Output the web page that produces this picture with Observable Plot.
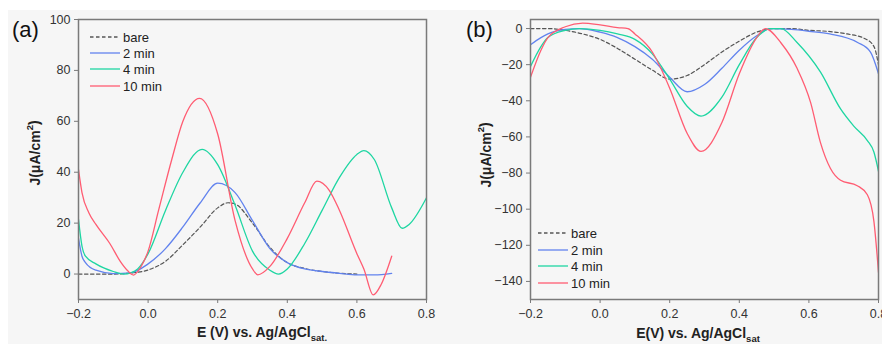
<!DOCTYPE html>
<html>
<head>
<meta charset="utf-8">
<script src="https://cdn.jsdelivr.net/npm/d3@7"></script>
<script src="https://cdn.jsdelivr.net/npm/@observablehq/plot@0.6"></script>
<style>
  html, body { margin: 0; padding: 0; background: #ffffff; }
  #wrap { position: relative; width: 882px; height: 344px; overflow: hidden; font-family: "Liberation Sans", Arial, sans-serif; }
  #bg { position: absolute; left: 8px; top: 10px; width: 874px; height: 334px; background: #f6f6f6; }
  .panel { position: absolute; top: 0; width: 441px; height: 344px; overflow: hidden; }
  #pa { left: 0; }
  #pb { left: 441px; }
</style>
</head>
<body>
<div id="wrap">
  <div id="bg"></div>
  <div class="panel" id="pa"></div>
  <div class="panel" id="pb"></div>
</div>
<script>
// ---------- Data ----------
const seriesNames = ["bare", "2 min", "4 min", "10 min"];
const seriesColors = ["#555555", "#6283ee", "#1ed6a2", "#ff5c72"];

// Panel (a)
const bareA_E = [-0.2,-0.15,-0.1,-0.05,0,0.05,0.1,0.15,0.2,0.23,0.25,0.3,0.35,0.4,0.45,0.5,0.55,0.6];
const bareA_J = [0,0,0,0.4,1.6,5,11.5,18.5,26,28,27.5,20,10.5,4.5,2.2,1,0.3,0];
const min2A_E = [-0.2,-0.19,-0.18,-0.15,-0.1,-0.05,0,0.05,0.1,0.15,0.2,0.25,0.3,0.35,0.4,0.45,0.5,0.55,0.6,0.65,0.7];
const min2A_J = [14,7,4.5,1.5,0.2,0.5,4,10,18.5,28,35.7,32,21,10,4.5,2,1,0.3,-0.3,-0.3,0.3];
const min4A_E = [-0.2,-0.19,-0.18,-0.15,-0.1,-0.07,-0.05,-0.03,0,0.05,0.1,0.155,0.2,0.25,0.3,0.35,0.375,0.4,0.45,0.5,0.55,0.6,0.62,0.65,0.7,0.73,0.75,0.8];
const min4A_J = [21.5,11,7,4,1,0,0.5,2,8,25,40,49,43,27,9,1.5,0,2,12,25,38,47,48.5,45,26,18,19.5,30];
const min10A_E = [-0.2,-0.19,-0.17,-0.15,-0.11,-0.08,-0.06,-0.042,-0.02,0,0.03,0.068,0.1,0.148,0.2,0.25,0.3,0.315,0.35,0.4,0.45,0.485,0.52,0.55,0.6,0.62,0.647,0.67,0.7];
const min10A_J = [41,32,24,19.5,12,5,1.5,-0.4,3,9,25,45,60,69,55,21,2,-0.3,3,14,28,36.5,33,25,8,2,-8.2,-4,7];

// Panel (b)
const bareB_E = [-0.2,-0.15,-0.1,-0.05,0,0.05,0.1,0.15,0.2,0.25,0.3,0.35,0.4,0.45,0.5,0.55,0.6,0.65,0.71,0.76,0.787,0.8];
const bareB_J = [0,0,-1,-3,-6,-11,-17,-23,-28,-26,-20,-13,-7,-2,0,0,-1,-1.5,-3,-5.5,-10,-20];
const min2B_E = [-0.2,-0.17,-0.15,-0.1,-0.06,0,0.05,0.1,0.15,0.2,0.25,0.3,0.35,0.4,0.45,0.49,0.55,0.6,0.66,0.74,0.777,0.8];
const min2B_J = [-9,-5,-3,-0.5,0,-2,-5,-10,-17,-27,-35,-31,-22,-12,-4,0,-0.5,-1.5,-3,-7.7,-13,-25];
const min4B_E = [-0.2,-0.17,-0.15,-0.1,-0.06,0,0.05,0.1,0.15,0.2,0.25,0.29,0.35,0.4,0.45,0.49,0.52,0.566,0.633,0.691,0.729,0.768,0.787,0.8];
const min4B_J = [-21,-10,-5,-1,0,-1,-3,-6,-14,-28,-43,-48.5,-38,-20,-5,0,0,-7.7,-24,-44.5,-54,-62,-68.5,-79];
const min10B_E = [-0.2,-0.17,-0.15,-0.1,-0.05,0,0.05,0.08,0.1,0.15,0.2,0.25,0.29,0.35,0.4,0.45,0.475,0.52,0.566,0.605,0.633,0.662,0.691,0.739,0.768,0.787,0.8];
const min10B_J = [-27,-12,-5,1,3,2,0.5,0,-3,-13,-33,-58,-68,-52,-25,-5,0,-8,-22,-41,-63,-77.5,-84,-87,-92,-107,-135];

const xTicks = [-0.2, 0, 0.2, 0.4, 0.6, 0.8];
const yTicksA = [0, 20, 40, 60, 80, 100];
const yTicksB = [0, -20, -40, -60, -80, -100, -120, -140];

// ---------- Helpers ----------
function rows(Es, Js, name) { return Es.map((e, i) => ({E: e, J: Js[i], s: name})); }
const dataA = [
  ...rows(bareA_E, bareA_J, "bare"), ...rows(min2A_E, min2A_J, "2 min"),
  ...rows(min4A_E, min4A_J, "4 min"), ...rows(min10A_E, min10A_J, "10 min")
];
const dataB = [
  ...rows(bareB_E, bareB_J, "bare"), ...rows(min2B_E, min2B_J, "2 min"),
  ...rows(min4B_E, min4B_J, "4 min"), ...rows(min10B_E, min10B_J, "10 min")
];
const fmt1 = d3.format(".1f");
const fmtInt = d3.format("d");

function makePanel(data, yDomain, yTicks, marginLeft, marginRight) {
  const solid = seriesNames.slice(1);
  return Plot.plot({
    width: 441, height: 344,
    marginLeft, marginRight, marginTop: 19, marginBottom: 45,
    style: {background: "transparent", fontFamily: "'Liberation Sans', Arial, sans-serif", fontSize: "12.5px", color: "#333"},
    x: {domain: [-0.2, 0.8]},
    y: {domain: yDomain},
    color: {domain: seriesNames, range: seriesColors},
    marks: [
      Plot.line(data.filter(d => d.s === "bare"), {x: "E", y: "J", stroke: "s", strokeWidth: 1.2, strokeDasharray: "3.5,2.5", curve: "monotone-x", clip: true}),
      ...solid.map(n => Plot.line(data.filter(d => d.s === n), {x: "E", y: "J", stroke: "s", strokeWidth: 1.3, curve: "monotone-x", clip: true})),
      Plot.frame({stroke: "#7a7a7a", strokeWidth: 1.5}),
      Plot.axisX({ticks: xTicks, tickFormat: fmt1, tickSize: 4, tickPadding: 6, label: null, stroke: "#7a7a7a", fontSize: 12.5}),
      Plot.axisY({ticks: yTicks, tickFormat: fmtInt, tickSize: 4, tickPadding: 4, label: null, stroke: "#7a7a7a", fontSize: 12.5})
    ]
  });
}

function decorate(svgNode, opts) {
  const svg = d3.select(svgNode);
  const g = svg.append("g").attr("font-family", "'Liberation Sans', Arial, sans-serif").attr("fill", "#222");
  // panel tag
  g.append("text").attr("x", opts.tagX).attr("y", 37).attr("text-anchor", "start")
    .attr("font-size", 22).attr("fill", "#111").text(opts.tag);
  // y label
  const yl = g.append("text").attr("transform", `translate(${opts.yLabX},${opts.yLabY}) rotate(-90)`)
    .attr("text-anchor", "middle").attr("font-size", 14).attr("font-weight", "bold").attr("dy", "0.35em");
  yl.append("tspan").text("J(μA/cm");
  yl.append("tspan").attr("font-size", 9.5).attr("dy", "-0.75em").text("2");
  yl.append("tspan").attr("font-size", 14).attr("dy", "0.45em").text(")");
  // x label
  const xl = g.append("text").attr("x", opts.xLabX).attr("y", opts.xLabY).attr("text-anchor", "middle")
    .attr("font-size", 14).attr("font-weight", "bold");
  xl.append("tspan").text(opts.xLab);
  xl.append("tspan").attr("font-size", 9.5).attr("dy", "0.4em").text(opts.xSub);
  // legend
  const lg = g.append("g");
  seriesNames.forEach((n, i) => {
    const y = opts.legY[i];
    lg.append("line").attr("x1", opts.legX).attr("x2", opts.legX + 30).attr("y1", y).attr("y2", y)
      .attr("stroke", seriesColors[i]).attr("stroke-width", 1.3)
      .attr("stroke-dasharray", i === 0 ? "3.5,2.5" : null);
    lg.append("text").attr("x", opts.legX + 33).attr("y", y).attr("dy", "0.35em")
      .attr("text-anchor", "start").attr("font-size", 13).attr("fill", "#222").text(n);
  });
}

const svgA = makePanel(dataA, [-10, 100], yTicksA, 78, 15);
document.getElementById("pa").appendChild(svgA);
decorate(svgA, {tag: "(a)", tagX: 12, yLabX: 35, yLabY: 153, xLabX: 262, xLabY: 337,
  xLab: "E (V) vs. Ag/AgCl", xSub: "sat.", legX: 90, legY: [37, 53, 69, 86]});

const svgB = makePanel(dataB, [-150, 5], yTicksB, 89, 4);
document.getElementById("pb").appendChild(svgB);
decorate(svgB, {tag: "(b)", tagX: 25, yLabX: 45, yLabY: 155, xLabX: 257, xLabY: 338,
  xLab: "E(V) vs. Ag/AgCl", xSub: "sat", legX: 97, legY: [233, 250, 266, 283]});
</script>
</body>
</html>
